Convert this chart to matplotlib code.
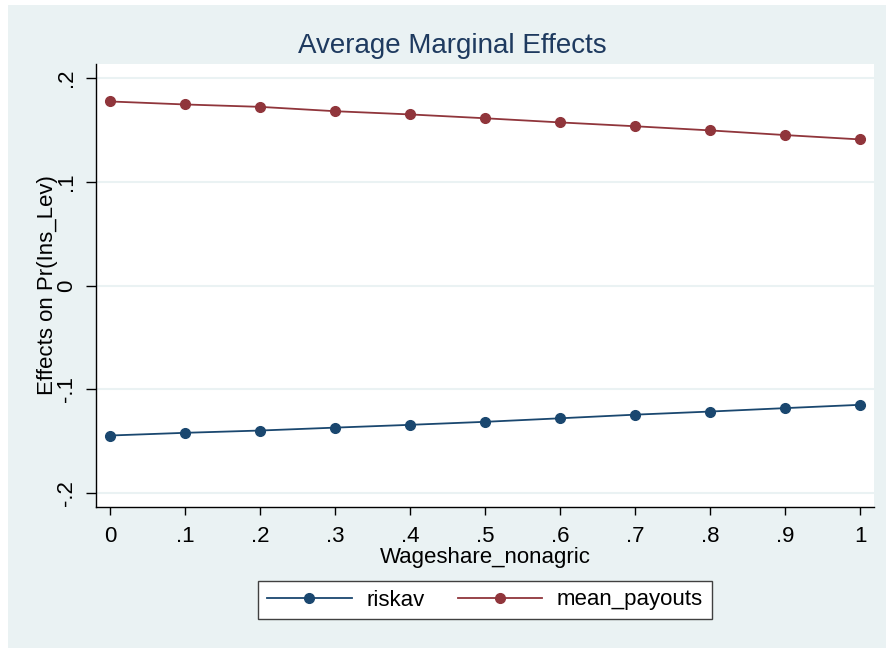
import matplotlib.pyplot as plt
from matplotlib.patches import Rectangle

x_vals = [0, 0.1, 0.2, 0.3, 0.4, 0.5, 0.6, 0.7, 0.8, 0.9, 1.0]
riskav = [-0.1446, -0.1420, -0.1398, -0.1370, -0.1343, -0.1314, -0.1280, -0.1245, -0.1215, -0.1182, -0.1150]
mean_payouts = [0.1774, 0.1745, 0.1722, 0.1680, 0.1649, 0.1612, 0.1572, 0.1535, 0.1495, 0.1450, 0.1408]

x_ticks = [0, 0.1, 0.2, 0.3, 0.4, 0.5, 0.6, 0.7, 0.8, 0.9, 1.0]
x_labels = ["0", ".1", ".2", ".3", ".4", ".5", ".6", ".7", ".8", ".9", "1"]
y_ticks = [-0.2, -0.1, 0, 0.1, 0.2]
y_labels = ["-.2", "-.1", "0", ".1", ".2"]

navy = "#1a476f"
maroon = "#90353b"
bg = "#eaf2f3"

plt.rcParams["font.family"] = ["Liberation Sans", "DejaVu Sans"]

W, H = 887, 648
fig = plt.figure(figsize=(W / 100, H / 100), dpi=100, facecolor=bg)
# thin white strips at the top and left edge
fig.patches.append(Rectangle((0, 0), 8 / W, 1, transform=fig.transFigure,
                             facecolor="white", edgecolor="none"))
fig.patches.append(Rectangle((0, 1 - 5 / H), 1, 5 / H, transform=fig.transFigure,
                             facecolor="white", edgecolor="none"))

ax = fig.add_axes([96 / W, 1 - 507 / H, (874 - 96) / W, (507 - 64) / H])
ax.set_facecolor("white")

ax.plot(x_vals, riskav, color=navy, marker="o", markersize=7, linewidth=1.3, label="riskav")
ax.plot(x_vals, mean_payouts, color=maroon, marker="o", markersize=7, linewidth=1.3, label="mean_payouts")

ax.set_xlim(-0.0186, 1.0186)
ax.set_ylim(-0.2135, 0.2135)
ax.set_xticks(x_ticks)
ax.set_xticklabels(x_labels, fontsize=16)
ax.set_yticks(y_ticks)
ax.set_yticklabels(y_labels, fontsize=16, rotation=90, va="center")
ax.tick_params(axis="both", direction="out", width=1, colors="black")
ax.tick_params(axis="x", length=6, pad=8)
ax.tick_params(axis="y", length=7.5, pad=6)
ax.yaxis.grid(True, color=bg, linewidth=1.5)
ax.set_axisbelow(True)

for side in ["top", "right"]:
    ax.spines[side].set_visible(False)
for side in ["left", "bottom"]:
    ax.spines[side].set_color("black")
    ax.spines[side].set_linewidth(1)

ax.set_xlabel("Wageshare_nonagric", fontsize=16, labelpad=0)
ax.set_ylabel("Effects on Pr(Ins_Lev)", fontsize=16, labelpad=-1)

fig.text(452 / W, 1 - 46 / H, "Average Marginal Effects", fontsize=20,
         color="#1e3a5f", ha="center", va="center")

leg = fig.legend(loc="center", bbox_to_anchor=(485 / W, 1 - 600 / H), ncol=2, fontsize=16,
                 frameon=True, fancybox=False, edgecolor="#404040", framealpha=1,
                 handlelength=3.8, handletextpad=0.65, columnspacing=1.5,
                 borderpad=0.4)
leg.get_frame().set_linewidth(1)

fig.savefig("out.png", dpi=100, facecolor=fig.get_facecolor())
